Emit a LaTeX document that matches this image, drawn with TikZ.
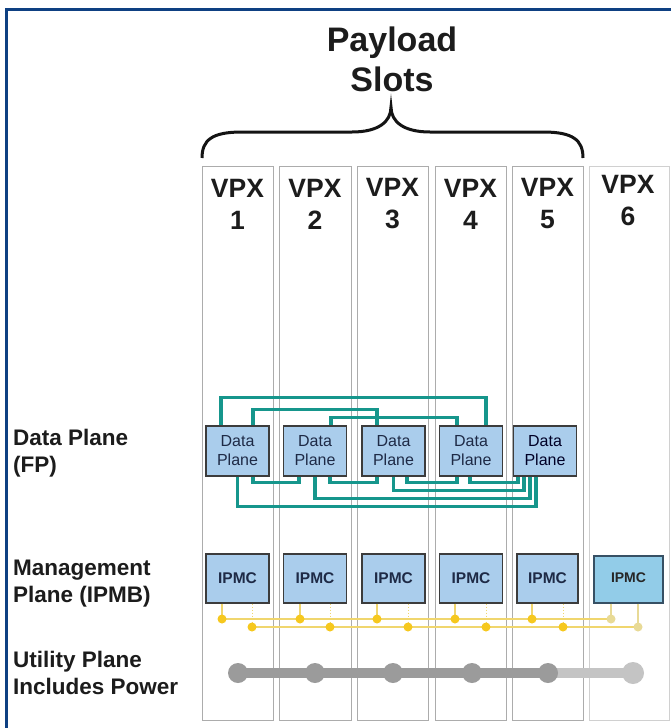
\documentclass[tikz,border=0pt]{standalone}
\usepackage{fontspec}
\setmainfont{Liberation Sans}
\usetikzlibrary{calc}
\definecolor{frameblue}{RGB}{14,64,130}
\definecolor{slotgray}{RGB}{172,172,172}
\definecolor{slotlight}{RGB}{208,208,208}
\definecolor{boxfill}{RGB}{170,205,236}
\definecolor{boxline}{RGB}{60,60,60}
\definecolor{ipmcsix}{RGB}{146,204,232}
\definecolor{ipmcsixline}{RGB}{55,80,100}
\definecolor{boxtext}{RGB}{30,42,70}
\definecolor{tealline}{RGB}{22,150,140}
\definecolor{ybus}{RGB}{240,214,110}
\definecolor{ydot}{RGB}{246,200,30}
\definecolor{ypale}{RGB}{232,218,150}
\definecolor{ugray}{RGB}{155,155,155}
\definecolor{ulight}{RGB}{196,196,196}
\definecolor{txt}{RGB}{28,28,28}
\begin{document}
\begin{tikzpicture}[x=1pt,y=-1pt,
  slotbox/.style={draw=slotgray,line width=1pt,minimum height=554pt,inner sep=0pt},
  vpx/.style={font=\fontsize{26.5}{32}\selectfont\bfseries,text=txt,align=center,inner sep=0pt},
  sidelbl/.style={font=\fontsize{22.5}{26.5}\selectfont\bfseries,text=txt,align=left,inner sep=0pt,anchor=north west},
  dp/.style={draw=boxline,line width=1.1pt,fill=boxfill,minimum width=63pt,minimum height=50pt,inner sep=0pt,
    font=\fontsize{16}{19}\selectfont,text=boxtext,align=center},
  ipmc/.style={draw=boxline,line width=1.1pt,fill=boxfill,minimum width=63pt,minimum height=49pt,inner sep=0pt,
    font=\fontsize{15.5}{18}\selectfont\bfseries,text=boxtext},
  dpl/.style={draw=tealline,line width=3.6pt},
  ybusl/.style={draw=ybus,line width=2pt},
  ystub/.style={draw=ybus,line width=1.6pt},
  ystubd/.style={draw=ybus,line width=1pt,dash pattern=on 1.5pt off 1.5pt},
  ulinel/.style={line width=10pt}
]
\useasboundingbox (0,0) rectangle (671,728);
\fill[white] (0,0) rectangle (671,728);
% frame
\draw[frameblue,line width=2.8pt] (6.2,728) -- (6.2,9.5) -- (671,9.5);

% slots
\node[slotbox,minimum width=71pt] (s1) at (237.5,443) {};
\node[slotbox,minimum width=72pt] (s2) at (315,443) {};
\node[slotbox,minimum width=71pt] (s3) at (392.5,443) {};
\node[slotbox,minimum width=71pt] (s4) at (470.5,443) {};
\node[slotbox,minimum width=71pt] (s5) at (547.5,443) {};
\node[slotbox,draw=slotlight,minimum width=80pt] (s6) at (629,443) {};

% title and brace
\node[font=\fontsize{34}{40.5}\selectfont\bfseries,text=txt,align=center,inner sep=0pt] (title) at (392,59.5) {Payload\\Slots};
\draw[line width=3pt,color=black!92] (202,158) .. controls (202,140) and (212,132) .. (242,132) -- (352,132)
  .. controls (378,132) and (391,122) .. (391,107) .. controls (391,122) and (404,132) .. (430,132) -- (543,132)
  .. controls (573,132) and (583,140) .. (583,158);

% slot labels
\node[vpx] (v1) at (237.5,204) {VPX\\1};
\node[vpx] (v2) at (315,204) {VPX\\2};
\node[vpx] (v3) at (392.5,204) {VPX\\3};
\node[vpx] (v4) at (470.5,204) {VPX\\4};
\node[vpx] (v5) at (547.5,204) {VPX\\5};
\node[vpx] (v6) at (628,201) {VPX\\6};

% side labels
\node[sidelbl] (ldp) at (13,429) {Data Plane\\(FP)};
\node[sidelbl] (lmp) at (13,560) {Management\\Plane (IPMB)};
\node[sidelbl] (lup) at (13,651) {Utility Plane\\Includes Power};

% data plane boxes
\node[dp] (d1) at (237.5,451) {Data\\Plane};
\node[dp] (d2) at (315,451) {Data\\Plane};
\node[dp] (d3) at (393.5,451) {Data\\Plane};
\node[dp] (d4) at (471,451) {Data\\Plane};
\node[dp,text=black!85!blue] (d5) at (545,451) {Data\\Plane};

% data plane mesh (top)
\draw[dpl] ([xshift=-16.5pt]d1.north) -- ++(0,-28) -| ([xshift=15pt]d4.north);
\draw[dpl] ([xshift=15.5pt]d1.north) -- ++(0,-16) -| ([xshift=-16.5pt]d3.north);
\draw[dpl] ([xshift=16pt]d2.north) -- ++(0,-8) -| ([xshift=-14pt]d4.north);
% data plane mesh (bottom)
\draw[dpl] ([xshift=15.5pt]d1.south) -- ++(0,6) -| ([xshift=-16pt]d2.south);
\draw[dpl] ([xshift=15pt]d2.south) -- ++(0,6) -| ([xshift=-16.5pt]d3.south);
\draw[dpl] ([xshift=13.5pt]d3.south) -- ++(0,6) -| ([xshift=-14pt]d4.south);
\draw[dpl] ([xshift=-1pt]d4.south) -- ++(0,6) -| ([xshift=-27pt]d5.south);
\draw[dpl] (d3.south) -- ++(0,14) -| ([xshift=-21pt]d5.south);
\draw[dpl] (d2.south) -- ++(0,22) -| ([xshift=-15pt]d5.south);
\draw[dpl] (d1.south) -- ++(0,30) -| ([xshift=-9pt]d5.south);

% IPMC boxes
\node[ipmc] (i1) at (237.5,578.5) {IPMC};
\node[ipmc] (i2) at (315,578.5) {IPMC};
\node[ipmc] (i3) at (393.5,578.5) {IPMC};
\node[ipmc] (i4) at (471,578.5) {IPMC};
\node[ipmc,minimum width=61pt] (i5) at (547.5,578.5) {IPMC};
\node[ipmc,draw=ipmcsixline,fill=ipmcsix,minimum width=69pt,minimum height=47pt,
  font=\fontsize{14}{16}\selectfont\bfseries,text=black!85] (i6) at (628.5,579.5) {\raisebox{3pt}{IPMC}};

% IPMB buses
\coordinate (a1) at (222,619);
\coordinate (a2) at (300,619);
\coordinate (a3) at (377,619);
\coordinate (a4) at (455,619);
\coordinate (a5) at (532,619);
\coordinate (a6) at (611,619);
\coordinate (b1) at (252,627);
\coordinate (b2) at (330,627);
\coordinate (b3) at (408,627);
\coordinate (b4) at (486,627);
\coordinate (b5) at (563,627);
\coordinate (b6) at (638,627);
\draw[ybusl] (a1) -- (a6);
\draw[ybusl] (b1) -- (b6);
\foreach \k in {1,...,5} {
  \draw[ystub] (i\k.south -| a\k) -- (a\k);
  \draw[ystubd] (i\k.south -| b\k) -- (b\k);
}
\draw[ystub,draw=ypale] (i6.south -| a6) -- (a6);
\draw[ystub,draw=ypale] (i6.south -| b6) -- (b6);
\foreach \k in {1,...,5} {
  \fill[ydot] (a\k) circle (4.5pt);
  \fill[ydot] (b\k) circle (4.5pt);
}
\fill[ypale] (a6) circle (4.5pt);
\fill[ypale] (b6) circle (4.5pt);

% utility plane
\coordinate (u1) at (238,673);
\coordinate (u2) at (315,673);
\coordinate (u3) at (393,673);
\coordinate (u4) at (472,673);
\coordinate (u5) at (548,673);
\coordinate (u6) at (633,673);
\draw[ulinel,ulight] (u5) -- (u6);
\draw[ulinel,ugray] (u1) -- (u5);
\foreach \k in {1,...,5} { \fill[ugray] (u\k) circle (10pt); }
\fill[ulight] (u6) circle (11pt);
\end{tikzpicture}
\end{document}
